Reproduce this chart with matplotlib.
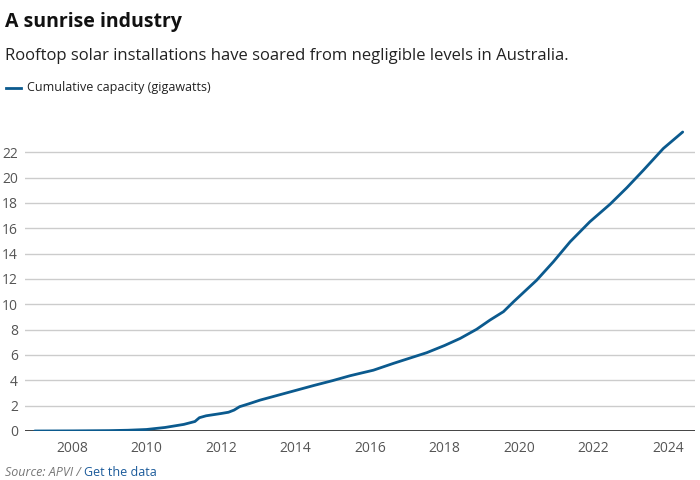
import matplotlib
matplotlib.use("Agg")
import matplotlib.pyplot as plt

plt.rcParams['font.family'] = ['Open Sans', 'DejaVu Sans']

# cumulative rooftop solar capacity (GW)
years = [2007.0, 2008.0, 2009.0, 2009.5, 2010.0, 2010.5, 2011.0, 2011.3,
         2011.42, 2011.6, 2012.0, 2012.2, 2012.35, 2012.5, 2012.75, 2013.05,
         2013.5, 2014.0, 2014.5, 2015.0, 2015.46, 2015.73, 2016.09, 2016.63,
         2017.0, 2017.52, 2018.0, 2018.42, 2018.86, 2019.22, 2019.58, 2019.85,
         2020.47, 2020.92, 2021.37, 2021.9, 2022.44, 2022.89, 2023.34,
         2023.87, 2024.39]
capacity = [0.0, 0.01, 0.03, 0.06, 0.12, 0.28, 0.52, 0.75,
            1.05, 1.2, 1.38, 1.48, 1.65, 1.92, 2.15, 2.44,
            2.8, 3.2, 3.6, 3.98, 4.36, 4.55, 4.8, 5.34,
            5.69, 6.18, 6.75, 7.31, 8.03, 8.76, 9.42, 10.2,
            11.9, 13.36, 14.94, 16.52, 17.9, 19.2, 20.6,
            22.3, 23.6]
xticks = [2008, 2010, 2012, 2014, 2016, 2018, 2020, 2022, 2024]
yticks = list(range(0, 24, 2))

line_color = '#0b5a8e'
grey = '#555555'

fig = plt.figure(figsize=(7, 4.8), dpi=100)
ax = fig.add_axes([25/700, 1 - 431/480, 670/700, 310.4/480])

ax.plot(years, capacity, color=line_color, linewidth=2, solid_capstyle='round')

ax.set_xlim(2006.74, 2024.72)
ax.set_ylim(0, 24.5)
ax.set_xticks(xticks)
ax.set_xticklabels([str(y) for y in xticks])
ax.set_yticks(yticks)
ax.tick_params(length=0, labelsize=10, labelcolor=grey)
ax.tick_params(axis='x', pad=7)
ax.tick_params(axis='y', pad=5)

for y in yticks[1:]:
    ax.axhline(y, color='#cccccc', linewidth=1, zorder=0)
ax.axhline(0, color='#222222', linewidth=1.2, zorder=1)

for sp_ in ax.spines.values():
    sp_.set_visible(False)

fig.text(5/700, 1 - 22/480, 'A sunrise industry', fontsize=14, fontweight='bold',
         va='center', ha='left', color='#111111')
fig.text(5/700, 1 - 56/480,
         'Rooftop solar installations have soared from negligible levels in Australia.',
         fontsize=12, va='center', ha='left', color='#222222')

# legend
fig.lines.append(plt.Line2D([6/700, 21/700], [1 - 88/480, 1 - 88/480],
                            transform=fig.transFigure, color=line_color, linewidth=2))
fig.text(27/700, 1 - 88/480, 'Cumulative capacity (gigawatts)', fontsize=9,
         va='center', ha='left', color='#222222')

# source line at the bottom edge
src = fig.text(5/700, 1 - 466/480, 'Source: APVI / ', fontsize=9, style='italic',
               va='top', ha='left', color='#777777')
fig.canvas.draw()
bb = src.get_window_extent()
fig.text(bb.x1 / fig.bbox.width, 1 - 466/480, 'Get the data', fontsize=9,
         va='top', ha='left', color='#1a5a9a')

fig.savefig('out.png', dpi=100)
